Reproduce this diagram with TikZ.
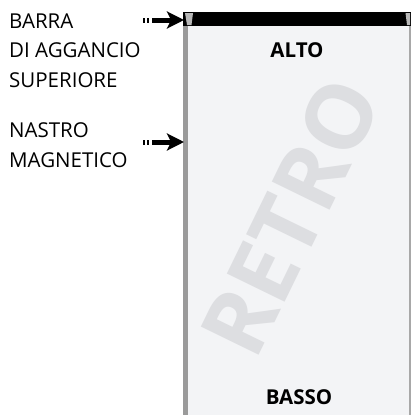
\documentclass[tikz,border=0pt]{standalone}
\usepackage{fontspec}
\setmainfont{Open Sans}
\usetikzlibrary{arrows.meta}
\definecolor{panelfill}{HTML}{F3F4F6}
\definecolor{stripgray}{HTML}{9A9A9A}
\definecolor{edgegray}{HTML}{A8A8A8}
\definecolor{capgray}{HTML}{B8B8B8}
\definecolor{markgray}{HTML}{DDDEE1}
\begin{document}
\begin{tikzpicture}[
        x=1pt, y=-1pt,
        caption/.style={align=left, anchor=north west, inner sep=0pt,
            font=\fontsize{20.5}{29.5}\selectfont},
        sidetext/.style={inner sep=0pt, font=\bfseries\fontsize{20.5}{24}\selectfont},
        pointer/.style={line width=5pt,
            dash pattern=on 2pt off 2pt on 2pt off 3pt on 80pt,
            -{Stealth[length=17pt, width=17pt, inset=4pt]}}]
        \useasboundingbox (0,0) rectangle (412,415);
        % PANEL
        \fill[panelfill] (184,12) rectangle (410,415);
        \fill[stripgray] (183,26) rectangle (188,415);
        \fill[edgegray] (409,26) rectangle (411,415);
        % top bar with end caps
        \fill[black] (183,12) rectangle (411,26);
        \fill[capgray] (185,13) -- (193,13) -- (191.5,25) -- (187,25) -- cycle;
        \fill[capgray] (405.5,13) -- (410,13) -- (410,25) -- (407,25) -- cycle;
        % watermark
        \node[inner sep=0pt, rotate=64, text=markgray,
              font=\bfseries\fontsize{90}{90}\selectfont] (mark) at (291,217) {RETRO};
        % side labels
        \node[sidetext] (top) at (297,50) {ALTO};
        \node[sidetext] (bottom) at (299,397) {BASSO};
        % CAPTIONS
        \node[caption] (barcap) at (9,13.5) {BARRA\\DI AGGANCIO\\SUPERIORE};
        \node[caption] (stripcap) at (9,122.5) {NASTRO\\MAGNETICO};
        % ARROWS
        \coordinate (barfrom) at (143,20);
        \coordinate (barto) at (184,20);
        \coordinate (stripfrom) at (143,142);
        \coordinate (stripto) at (184,142);
        \draw[pointer] (barfrom) -- (barto);
        \draw[pointer] (stripfrom) -- (stripto);
\end{tikzpicture}
\end{document}
